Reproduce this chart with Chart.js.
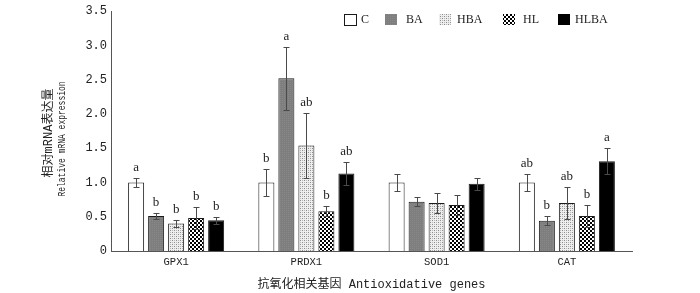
<!DOCTYPE html>
<html><head><meta charset="utf-8">
<script src="https://cdn.jsdelivr.net/npm/chart.js@4/dist/chart.umd.min.js"></script>
<style>html,body{margin:0;padding:0;background:#fff}#wrap{width:700px;height:293px;position:relative}</style>
</head><body><div id="wrap"><canvas id="c" width="700" height="293"></canvas></div>
<script>
const categories = ['GPX1','PRDX1','SOD1','CAT'];
const seriesNames = ['C','BA','HBA','HL','HLBA'];
const valC    = [1.00, 1.00, 1.00, 1.00];
const valBA   = [0.51, 2.52, 0.72, 0.44];
const valHBA  = [0.40, 1.54, 0.70, 0.70];
const valHL   = [0.48, 0.58, 0.67, 0.51];
const valHLBA = [0.45, 1.13, 0.98, 1.31];
const errC    = [0.06, 0.19, 0.12, 0.13];
const errBA   = [0.05, 0.46, 0.07, 0.065];
const errHBA  = [0.05, 0.47, 0.15, 0.23];
const errHL   = [0.16, 0.07, 0.15, 0.16];
const errHLBA = [0.05, 0.17, 0.09, 0.19];
const sigC    = ['a','b','','ab'];
const sigBA   = ['b','a','','b'];
const sigHBA  = ['b','ab','','ab'];
const sigHL   = ['b','b','','b'];
const sigHLBA = ['b','ab','','a'];
const yTickLabels = ['0','0.5','1.0','1.5','2.0','2.5','3.0','3.5'];
const yTitleLines = ['相对mRNA表达量','Relative mRNA expression'];
const xTitle = '抗氧化相关基因 Antioxidative genes';

const mainCtx = document.getElementById('c').getContext('2d');
function makePattern(w, h, draw) {
  const cv = document.createElement('canvas'); cv.width = w; cv.height = h;
  draw(cv.getContext('2d'));
  return mainCtx.createPattern(cv, 'repeat');
}
const patBA = makePattern(2, 2, g => { g.fillStyle = '#7e7e7e'; g.fillRect(0,0,2,2); g.fillStyle='#888'; g.fillRect(0,0,1,1); });
const patHBA = makePattern(4, 4, g => {
  g.fillStyle = '#eeeeee'; g.fillRect(0,0,4,4);
  g.fillStyle = '#8c8c8c'; g.fillRect(0,0,1,1); g.fillRect(2,2,1,1);
  g.fillStyle = '#b8b8b8'; g.fillRect(2,0,1,1); g.fillRect(0,2,1,1);
});
const patHL = makePattern(4, 4, g => {
  g.fillStyle = '#ffffff'; g.fillRect(0,0,4,4);
  g.fillStyle = '#000000'; g.fillRect(0,0,2,2); g.fillRect(2,2,2,2);
});
const fills = ['#ffffff', patBA, patHBA, patHL, '#000000'];
const values = [valC, valBA, valHBA, valHL, valHLBA];
const errors = [errC, errBA, errHBA, errHL, errHLBA];
const sigs = [sigC, sigBA, sigHBA, sigHL, sigHLBA];

const datasets = seriesNames.map((n, i) => ({
  label: n, data: values[i], errors: errors[i], sig: sigs[i],
  backgroundColor: fills[i], borderColor: '#1a1a1a', borderWidth: 1,
  categoryPercentage: 0.768, barPercentage: 0.8
}));

const errorBarPlugin = {
  id: 'errbars',
  afterDatasetsDraw(chart) {
    const ctx = chart.ctx, ys = chart.scales.y;
    ctx.save();
    chart.data.datasets.forEach((ds, di) => {
      const meta = chart.getDatasetMeta(di);
      meta.data.forEach((bar, i) => {
        const v = ds.data[i], e = ds.errors[i];
        const x = Math.round(bar.x) + 0.5;
        const yt = Math.round(ys.getPixelForValue(v + e)) + 0.5;
        const yb = Math.round(ys.getPixelForValue(v - e)) + 0.5;
        ctx.strokeStyle = '#4a4a4a'; ctx.lineWidth = 1;
        ctx.beginPath();
        ctx.moveTo(x, yt); ctx.lineTo(x, yb);
        ctx.moveTo(x - 3, yt); ctx.lineTo(x + 3, yt);
        ctx.moveTo(x - 3, yb); ctx.lineTo(x + 3, yb);
        ctx.stroke();
        if (ds.sig[i]) {
          ctx.fillStyle = '#222';
          ctx.font = "13px 'Liberation Serif', serif";
          ctx.textAlign = 'center'; ctx.textBaseline = 'bottom';
          ctx.fillText(ds.sig[i], bar.x, yt - 4);
        }
      });
    });
    ctx.restore();
  }
};

const legendX = [344, 385, 439, 503, 558];
const legendTextX = [361, 406, 457, 523, 575];
const legendPlugin = {
  id: 'customLegend',
  afterDraw(chart) {
    const ctx = chart.ctx;
    ctx.save();
    chart.data.datasets.forEach((ds, i) => {
      const bx = legendX[i], by = 14;
      ctx.fillStyle = ds.backgroundColor;
      ctx.fillRect(bx, by, 12, 11);
      if (i === 0) { ctx.strokeStyle = '#1a1a1a'; ctx.lineWidth = 1; ctx.strokeRect(bx + 0.5, by + 0.5, 12, 11); }
      ctx.fillStyle = '#222';
      ctx.font = "12px 'Liberation Serif', serif";
      ctx.textAlign = 'left'; ctx.textBaseline = 'middle';
      ctx.fillText(ds.label, legendTextX[i], by + 6);
    });
    ctx.restore();
  }
};

const yTitlePlugin = {
  id: 'yTitle',
  afterDraw(chart) {
    const ctx = chart.ctx;
    ctx.save();
    ctx.fillStyle = '#222';
    ctx.textAlign = 'center'; ctx.textBaseline = 'middle';
    ctx.translate(49, 133); ctx.rotate(-Math.PI / 2);
    ctx.font = "12px 'Liberation Mono', 'Noto Sans CJK SC', monospace";
    ctx.fillText(yTitleLines[0], 0, 0);
    ctx.restore();
    ctx.save();
    ctx.fillStyle = '#222';
    ctx.textAlign = 'center'; ctx.textBaseline = 'middle';
    ctx.translate(62, 139); ctx.rotate(-Math.PI / 2); ctx.scale(0.8, 1);
    ctx.font = "10px 'Liberation Mono', monospace";
    ctx.fillText(yTitleLines[1], 0, 0);
    ctx.restore();
  }
};

new Chart(document.getElementById('c'), {
  type: 'bar',
  data: { labels: categories, datasets },
  options: {
    responsive: false, animation: false,
    layout: { padding: { top: 6, right: 68, left: 0, bottom: 0 } },
    plugins: { legend: { display: false }, tooltip: { enabled: false } },
    scales: {
      x: {
        grid: { display: false, drawTicks: false },
        border: { display: true, color: '#555', width: 1 },
        ticks: { color: '#222', font: { family: "'Liberation Mono', monospace", size: 10.5 }, padding: 5 },
        title: { display: true, text: xTitle, color: '#222',
                 font: { family: "'Liberation Mono', 'Noto Sans CJK SC', monospace", size: 12 },
                 padding: { top: 0, bottom: 1 } },
        afterFit(s) { s.height = 42; }
      },
      y: {
        min: 0, max: 3.5,
        grid: { display: false, drawTicks: false },
        border: { display: true, color: '#555', width: 1 },
        ticks: { stepSize: 0.5, color: '#222', padding: 4,
                 font: { family: "'Liberation Mono', monospace", size: 12 },
                 callback: (v, i) => yTickLabels[i] },
        afterFit(s) { s.width = 111; }
      }
    }
  },
  plugins: [errorBarPlugin, legendPlugin, yTitlePlugin]
});
</script></body></html>
